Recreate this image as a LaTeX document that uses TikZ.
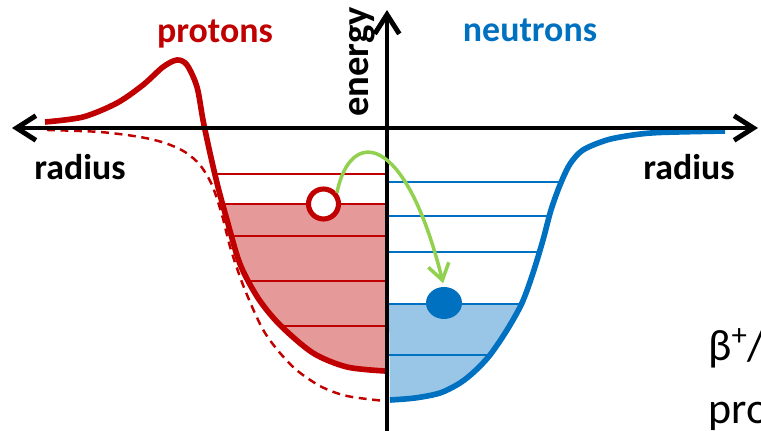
\documentclass[tikz,border=0pt]{standalone}
\usepackage{fontspec}
\setmainfont{Carlito}
\usepackage{xcolor}
\usetikzlibrary{arrows.meta,shapes.geometric}
\definecolor{pred}{HTML}{C00000}
\definecolor{nblue}{HTML}{0070C0}
\definecolor{lgreen}{HTML}{92D050}
\newcommand{\lblfont}{\fontsize{20.4}{24}\selectfont\bfseries}

\begin{document}
\begin{tikzpicture}[x=0.02cm,y=-0.02cm,
  ax/.style={line width=2.8pt,black,{Straight Barb[length=11pt,width=14pt]}-{Straight Barb[length=11pt,width=14pt]}},
  pcurve/.style={line width=3.2pt,pred,line join=round},
  ncurve/.style={line width=3.2pt,nblue,line join=round},
  pdash/.style={line width=1.4pt,pred,dash pattern=on 4.5pt off 3.2pt},
  plevel/.style={line width=1.3pt,pred},
  nlevel/.style={line width=1.3pt,nblue},
  hole/.style={circle,draw=pred,line width=2.9pt,fill=white,inner sep=0pt,minimum size=0.6cm},
  elec/.style={ellipse,fill=nblue,inner sep=0pt,minimum width=0.72cm,minimum height=0.64cm},
  hop/.style={line width=2pt,lgreen,-{Straight Barb[length=9pt,width=12pt]}},
  lbl/.style={font=\lblfont,inner sep=0pt}]
  \useasboundingbox (0,0) rectangle (761,431);
  % filled (occupied) parts of the wells
  \begin{scope}
    \clip (0,204) rectangle (387,431);
    \fill[pred!40] plot[smooth] coordinates {(45,122) (83,117) (117,103) (143,85) (163,67) (177,60) (187,65) (197,87) (203,120) (210,153) (218,187) (227,220) (240,264) (258,298) (280,325) (313,353) (347,367) (385,371)} -- (387,122) -- cycle;
  \end{scope}
  \begin{scope}
    \clip (387,304) rectangle (761,431);
    \fill[nblue!40] plot[smooth] coordinates {(390,400) (415,398) (440,393) (460,383) (475,371) (490,355) (507,330) (522,303) (533,273) (543,240) (551,210) (560,185) (570,164) (583,150) (607,140) (633,135) (660,132.5) (725,131)} -- (387,131) -- cycle;
  \end{scope}
  % levels
  \foreach \y/\x in {174/215,204/223,236/232,281/250,326/282}
    \draw[plevel] (\x,\y) -- (385,\y);
  \foreach \y/\x in {182/560,216/549,252/539,304/522,355/490}
    \draw[nlevel] (389,\y) -- (\x,\y);
  % potentials
  \draw[pdash] plot[smooth] coordinates {(47,130) (100,132) (140,137) (165,143) (185,152) (200,165) (212,185) (222,215) (231,250) (245,290) (265,333) (292,366) (320,386) (347,396) (385,401)};
  \draw[pcurve] plot[smooth] coordinates {(45,122) (83,117) (117,103) (143,85) (163,67) (177,60) (187,65) (197,87) (203,120) (210,153) (218,187) (227,220) (240,264) (258,298) (280,325) (313,353) (347,367) (385,371)};
  \draw[ncurve] plot[smooth] coordinates {(390,400) (415,398) (440,393) (460,383) (475,371) (490,355) (507,330) (522,303) (533,273) (543,240) (551,210) (560,185) (570,164) (583,150) (607,140) (633,135) (660,132.5) (725,131)};
  % axes
  \coordinate (xl) at (12,128);
  \coordinate (xr) at (758,128);
  \coordinate (yb) at (387,431);
  \coordinate (yt) at (387,10);
  \draw[ax] (xl) -- (xr);
  \draw[ax,{Straight Barb[length=11pt,width=14pt]}-] (yt) -- (yb);
  % labels
  \node[lbl,pred,anchor=base] (plbl) at (215,43) {protons};
  \node[lbl,nblue,anchor=base] (nlbl) at (530,42) {neutrons};
  \node[lbl,anchor=base,rotate=90,font=\fontsize{22}{26}\selectfont\bfseries] (elbl) at (368,62) {energy};
  \node[lbl,anchor=base] (rleft) at (80,180) {radius};
  \node[lbl,anchor=base] (rright) at (689,180) {radius};
  \node[font=\fontsize{25}{30}\selectfont,anchor=base west,inner sep=0pt] (beta) at (708,361) {β\textsuperscript{+}/};
  \node[font=\fontsize{25}{30}\selectfont,anchor=base west,inner sep=0pt] (proc) at (708,424) {pro};
  % hole and neutron
  \node[hole] (hole) at (323.5,204) {};
  \node[elec] (neut) at (444,303) {};
  \draw[hop,shorten >=2pt] (hole.40) .. controls (350,128) and (405,130) .. (neut.north);
\end{tikzpicture}
\end{document}
